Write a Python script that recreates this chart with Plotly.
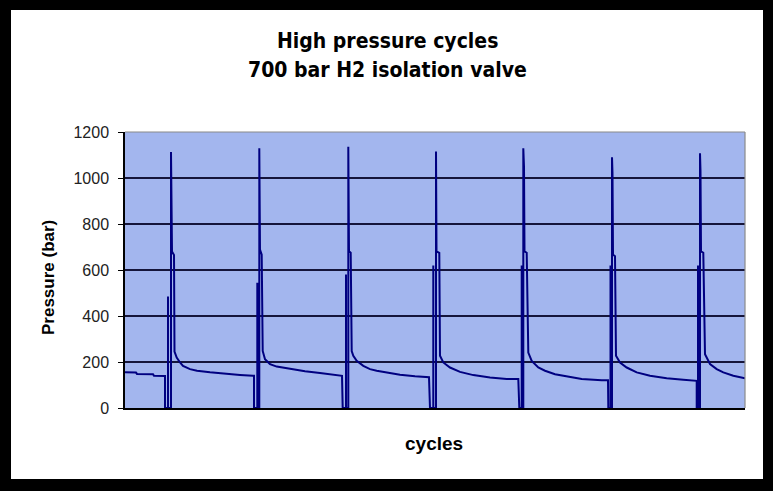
import plotly.graph_objects as go

# ---- data (time in arbitrary units, pressure in bar) ----
t_start = [0, 11, 12, 28, 29, 40]
p_start = [155, 154, 148, 147, 140, 139]

t_c1 = [40, 43, 43, 43, 46, 46, 47, 49, 49.5, 51.7, 55, 58, 65, 72, 85, 102, 115, 128, 129]
p_c1 = [0, 0, 485, 0, 0, 1113, 680, 665, 245, 219, 198, 183, 169, 162, 155, 147, 144, 140, 140]

t_c2 = [129, 132.3, 132.3, 132.3, 134.3, 134.3, 135, 136.7, 137.7, 140, 145, 151.7, 161.7, 180, 195, 210, 217]
p_c2 = [0, 0, 545, 0, 0, 1129, 689, 667, 248, 212, 191, 180, 172, 160, 152, 146, 140]

t_c3 = [217.7, 221, 221, 221, 223.3, 223.3, 224, 225.7, 226.7, 228.3, 231.7, 238.3, 245, 251.7, 261.7, 275, 290, 304]
p_c3 = [0, 0, 580, 0, 0, 1136, 681, 675, 248, 227, 205, 183, 169, 162, 155, 145, 138, 134]

t_c4 = [305, 308.3, 308.3, 308.3, 311, 311, 311.5, 314.3, 315, 318.3, 325, 335, 348.3, 365, 381.7, 393.3]
p_c4 = [0, 0, 620, 0, 0, 1115, 681, 675, 227, 198, 176, 157, 143, 133, 126, 126]

t_c5 = [394.3, 396.7, 396.7, 396.7, 398.3, 398.3, 399, 399.5, 401.7, 403.3, 406.7, 413.3, 420, 430, 443.3, 456.7, 476.7, 483]
p_c5 = [0, 0, 620, 0, 0, 1129, 1050, 681, 675, 241, 205, 176, 162, 147, 136, 126, 121, 121]

t_c6 = [483.3, 485.5, 485.5, 485.5, 487, 487, 487.5, 488, 490, 491, 495, 501.7, 511.7, 525, 541.7, 558.3, 571.7]
p_c6 = [0, 0, 620, 0, 0, 1090, 1021, 667, 660, 227, 198, 176, 155, 140, 129, 123, 118]

t_c7 = [571.7, 573, 573, 573, 575, 575, 575.5, 576, 578.3, 580, 581.7, 585, 591.7, 598.3, 608.3, 620]
p_c7 = [0, 0, 620, 0, 0, 1108, 1030, 681, 675, 234, 219, 191, 169, 155, 140, 129]

y_ticks = [0, 200, 400, 600, 800, 1000, 1200]

t_all = [p for seg in [t_start, t_c1, t_c2, t_c3, t_c4, t_c5, t_c6, t_c7] for p in seg]
p_all = [p for seg in [p_start, p_c1, p_c2, p_c3, p_c4, p_c5, p_c6, p_c7] for p in seg]

fig = go.Figure()
fig.add_trace(go.Scatter(
    x=t_all, y=p_all, mode="lines",
    line=dict(color="#000080", width=2),
    hoverinfo="skip", showlegend=False,
))

# geometry helpers (plot area 125..745 px wide, 132..408 px tall)
L, R, T, B = 125, 745, 132, 408
W, H = 773, 491
def xp(px):
    return (px - L) / (R - L)
def yp(py):
    return (B - py) / (B - T)

shapes = []
# black frame around the picture
for x0, x1, y0, y1 in [(-5, W + 5, -5, 10), (-5, W + 5, 479, H + 5),
                       (-5, 11, -5, H + 5), (763, W + 5, -5, H + 5)]:
    shapes.append(dict(type="rect", xref="paper", yref="paper",
                       x0=xp(x0), x1=xp(x1), y0=yp(y1), y1=yp(y0),
                       fillcolor="black", line=dict(width=0), layer="above"))
# gray plot-area border on top and right
shapes.append(dict(type="line", xref="paper", yref="paper", x0=0, x1=1, y0=1, y1=1,
                   line=dict(color="#8a8a8a", width=1.2), layer="above"))
shapes.append(dict(type="line", xref="paper", yref="paper", x0=1, x1=1, y0=0, y1=1,
                   line=dict(color="#8a8a8a", width=1.2), layer="above"))

title_font = dict(family="Liberation Sans Narrow, DejaVu Sans Condensed, Arial Narrow, sans-serif",
                  size=21, color="black", weight="bold")
label_font = dict(family="Liberation Sans, Arial, sans-serif", size=17, color="black", weight="bold")
annotations = [
    dict(text="High pressure cycles", xref="paper", yref="paper", x=xp(387), y=yp(41),
         xanchor="center", yanchor="middle", showarrow=False, font=title_font),
    dict(text="700 bar H2 isolation valve", xref="paper", yref="paper", x=xp(387), y=yp(70),
         xanchor="center", yanchor="middle", showarrow=False, font=title_font),
    dict(text="Pressure (bar)", xref="paper", yref="paper", x=xp(48), y=yp(278),
         xanchor="center", yanchor="middle", textangle=-90, showarrow=False, font=label_font),
    dict(text="cycles", xref="paper", yref="paper", x=xp(434), y=yp(443),
         xanchor="center", yanchor="middle", showarrow=False,
         font=dict(family="Liberation Sans, Arial, sans-serif", size=19, color="black", weight="bold")),
]

fig.update_layout(
    width=W, height=H,
    margin=dict(l=L, r=W - R, t=T, b=H - B, pad=0),
    paper_bgcolor="white",
    plot_bgcolor="#a3b6ee",
    shapes=shapes,
    annotations=annotations,
    xaxis=dict(range=[0, 620], showticklabels=False, ticks="", showgrid=False,
               zeroline=False, showline=True, linecolor="black", linewidth=1.5),
    yaxis=dict(range=[0, 1200], tickvals=y_ticks, ticktext=[str(v) for v in y_ticks],
               ticks="outside", ticklen=5, tickcolor="black", tickwidth=1.2,
               showgrid=True, gridcolor="#15153a", gridwidth=1.5,
               zeroline=False, showline=True, linecolor="black", linewidth=1.5,
               ticklabelstandoff=6,
               tickfont=dict(family="Liberation Sans, Arial, sans-serif", size=16, color="#222222")),
)

fig.write_html("out.html", config={"displayModeBar": False},
               post_script="document.body.style.margin='0';document.body.style.overflow='hidden';")
